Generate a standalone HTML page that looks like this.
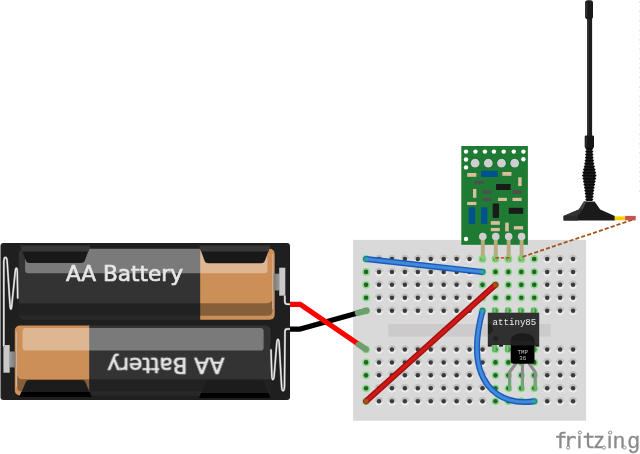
<!DOCTYPE html><html><head><meta charset="utf-8"><title>fritzing sketch</title>
<style>html,body{margin:0;padding:0;background:#fff}body{width:640px;height:454px;overflow:hidden}svg{display:block}text{font-family:"Liberation Sans",sans-serif}</style></head><body>
<svg width="640" height="454" viewBox="0 0 640 454">
<defs>
<linearGradient id="hg" x1="0" y1="0" x2="0" y2="1"><stop offset="0" stop-color="#bdbdbd"/><stop offset="0.42" stop-color="#c6c6c6"/><stop offset="0.58" stop-color="#e6e6e6"/><stop offset="1" stop-color="#f0f0f0"/></linearGradient>
<g id="h"><circle r="4.25" fill="url(#hg)"/><circle r="2.25" fill="#3a3a3a"/></g>
<g id="g"><circle r="3.85" fill="#86de86"/><circle r="2.3" fill="#2e5e2e"/></g>
<linearGradient id="nb"><stop offset="0" stop-color="#7a7a7a"/><stop offset="1" stop-color="#9a9a9a"/></linearGradient><linearGradient id="nb2"><stop offset="0" stop-color="#9a9a9a"/><stop offset="1" stop-color="#7a7a7a"/></linearGradient>
</defs>
<rect width="640" height="454" fill="#fff"/>
<g id="battery">
<rect x="0.5" y="243" width="289.5" height="157" rx="3" fill="#1f1f1f"/>
<clipPath id="tb"><rect x="18.8" y="248.8" width="255.9" height="70.9" rx="5"/></clipPath>
<g clip-path="url(#tb)">
<rect x="18" y="248" width="183" height="73" fill="#333"/>
<rect x="200.2" y="248" width="76" height="73" fill="#cd8f58"/>
<rect x="25.1" y="246" width="242.3" height="27.2" rx="3.2" fill="#fff" fill-opacity="0.35"/>
<path d="M18 303.2 L267 303.2 Q272.4 303.2 272.4 297.8 L272.4 311.2 Q272.4 315.8 267.8 315.8 L18 315.8 Z" fill="#000" fill-opacity="0.34"/>
<rect x="18" y="315.8" width="182.2" height="4" fill="#000" fill-opacity="0.2"/>
<rect x="272.3" y="254" width="0.9" height="55" fill="#c8c8c8" fill-opacity="0.8"/>
</g>
<clipPath id="bb"><rect x="14.8" y="325.6" width="255.7" height="69.9" rx="5"/></clipPath>
<g clip-path="url(#bb)">
<rect x="14" y="325" width="76" height="72" fill="#cd8f58"/>
<rect x="89.2" y="325" width="183" height="72" fill="#333"/>
<rect x="22.5" y="328.1" width="241.1" height="22.5" rx="3.2" fill="#fff" fill-opacity="0.35"/>
<path d="M272 379.3 L22.7 379.3 Q17.3 379.3 17.3 373.9 L17.3 387 Q17.3 391.6 21.9 391.6 L272 391.6 Z" fill="#000" fill-opacity="0.34"/>
<rect x="89.2" y="391.6" width="183" height="4" fill="#000" fill-opacity="0.2"/>
<rect x="15.9" y="332" width="0.9" height="55" fill="#c8c8c8" fill-opacity="0.8"/>
</g>
<path d="M20.1 245.6 L90.5 245.6 L85.0 260 Q84.2 263 81.2 263 L29.400000000000002 263 Q26.400000000000002 263 25.6 260 Z" fill="#191919"/>
<path d="M20.1 245.6 L90.5 245.6 L88.4 251.4 L22.2 251.4 Z" fill="#383838"/>
<path d="M199 245.6 L270.5 245.6 L265.1 260.2 Q264.3 263.2 261.3 263.2 L208.2 263.2 Q205.2 263.2 204.39999999999998 260.2 Z" fill="#191919"/>
<path d="M199 245.6 L270.5 245.6 L268.45681818181816 251.4 L201.0431818181818 251.4 Z" fill="#383838"/>
<path d="M19.4 397 L91.7 397 L85.7 382.9 Q84.9 379.9 81.9 379.9 L29.2 379.9 Q26.2 379.9 25.4 382.9 Z" fill="#1c1c1c"/>
<path d="M19.4 397 L91.7 397 L89.71169590643275 392 L21.388304093567246 392 Z" fill="#000"/>
<path d="M199 398 L270.5 398 L263.8 383.3 Q263.0 380.3 260.0 380.3 L209.5 380.3 Q206.5 380.3 205.7 383.3 Z" fill="#1c1c1c"/>
<path d="M199 398 L270.5 398 L268.3813559322034 393 L201.11864406779662 393 Z" fill="#000"/>
<rect x="273.6" y="273.7" width="5.8" height="16.8" fill="url(#nb)"/>
<rect x="279.2" y="267.7" width="6.1" height="28" fill="#c9c9c9"/>
<rect x="9.7" y="351.5" width="5.8" height="15.9" fill="url(#nb2)"/>
<rect x="3.4" y="345" width="6.3" height="27.7" fill="#c9c9c9"/>
<path d="M284.8 296 L284.8 301.5 Q284.8 304.2 287.5 304.2 L290 304.2" fill="none" stroke="#6a6a6a" stroke-width="2.3" stroke-linejoin="round" stroke-linecap="round"/>
<path d="M3.8 346 L3.8 262 C3.8 256 7 256 7.2 262 L10 305 C10.3 310.5 11.5 310.5 11.8 305 L15.2 272 C15.6 267 17.2 267 17.3 272 L17.7 298" fill="none" stroke="#6a6a6a" stroke-width="2.3" stroke-linejoin="round" stroke-linecap="round"/>
<path d="M290 329 L287.3 329 Q285 329 285 331.3 L284.5 386 C284.3 392.3 281.8 392.3 281.6 386 L279.2 344 C278.9 338 277 338 276.7 344 L274.2 375 C273.8 381 271.9 381 271.8 375 L271 350" fill="none" stroke="#6a6a6a" stroke-width="2.3" stroke-linejoin="round" stroke-linecap="round"/>
<path d="M284.8 296 L284.8 301.5 Q284.8 304.2 287.5 304.2 L290 304.2" fill="none" stroke="#e8e8e8" stroke-width="1.45" stroke-linejoin="round" stroke-linecap="round"/>
<path d="M3.8 346 L3.8 262 C3.8 256 7 256 7.2 262 L10 305 C10.3 310.5 11.5 310.5 11.8 305 L15.2 272 C15.6 267 17.2 267 17.3 272 L17.7 298" fill="none" stroke="#e8e8e8" stroke-width="1.45" stroke-linejoin="round" stroke-linecap="round"/>
<path d="M290 329 L287.3 329 Q285 329 285 331.3 L284.5 386 C284.3 392.3 281.8 392.3 281.6 386 L279.2 344 C278.9 338 277 338 276.7 344 L274.2 375 C273.8 381 271.9 381 271.8 375 L271 350" fill="none" stroke="#e8e8e8" stroke-width="1.45" stroke-linejoin="round" stroke-linecap="round"/>
<g style="filter:opacity(0.999)"><text x="65.9" y="281" font-size="21.65" style="font-family:'DejaVu Sans','Liberation Sans',sans-serif" fill="#e6e6e6" stroke="#e6e6e6" stroke-width="0.7">AA Battery</text>
<text transform="rotate(180 145.2 319.45)" x="65.9" y="281" font-size="21.65" style="font-family:'DejaVu Sans','Liberation Sans',sans-serif" fill="#e6e6e6" stroke="#e6e6e6" stroke-width="0.7">AA Battery</text></g>
</g>
<g id="breadboard">
<rect x="353.1" y="239.9" width="233" height="180.85" fill="#d9d9d9"/>
<rect x="388.2" y="324" width="162.3" height="12.6" fill="#cccaca"/>
<use href="#g" x="366.06" y="258.95"/>
<use href="#h" x="379.0" y="258.95"/>
<use href="#h" x="391.94" y="258.95"/>
<use href="#h" x="404.87" y="258.95"/>
<use href="#h" x="417.81" y="258.95"/>
<use href="#h" x="430.75" y="258.95"/>
<use href="#h" x="443.69" y="258.95"/>
<use href="#h" x="456.62" y="258.95"/>
<use href="#h" x="469.56" y="258.95"/>
<use href="#g" x="482.5" y="258.95"/>
<use href="#g" x="495.44" y="258.95"/>
<use href="#g" x="508.37" y="258.95"/>
<use href="#g" x="521.31" y="258.95"/>
<use href="#g" x="534.25" y="258.95"/>
<use href="#h" x="547.18" y="258.95"/>
<use href="#h" x="560.12" y="258.95"/>
<use href="#h" x="573.06" y="258.95"/>
<use href="#g" x="366.06" y="271.9"/>
<use href="#h" x="379.0" y="271.9"/>
<use href="#h" x="391.94" y="271.9"/>
<use href="#h" x="404.87" y="271.9"/>
<use href="#h" x="417.81" y="271.9"/>
<use href="#h" x="430.75" y="271.9"/>
<use href="#h" x="443.69" y="271.9"/>
<use href="#h" x="456.62" y="271.9"/>
<use href="#h" x="469.56" y="271.9"/>
<use href="#g" x="482.5" y="271.9"/>
<use href="#g" x="495.44" y="271.9"/>
<use href="#g" x="508.37" y="271.9"/>
<use href="#g" x="521.31" y="271.9"/>
<use href="#g" x="534.25" y="271.9"/>
<use href="#h" x="547.18" y="271.9"/>
<use href="#h" x="560.12" y="271.9"/>
<use href="#h" x="573.06" y="271.9"/>
<use href="#g" x="366.06" y="284.85"/>
<use href="#h" x="379.0" y="284.85"/>
<use href="#h" x="391.94" y="284.85"/>
<use href="#h" x="404.87" y="284.85"/>
<use href="#h" x="417.81" y="284.85"/>
<use href="#h" x="430.75" y="284.85"/>
<use href="#h" x="443.69" y="284.85"/>
<use href="#h" x="456.62" y="284.85"/>
<use href="#h" x="469.56" y="284.85"/>
<use href="#g" x="482.5" y="284.85"/>
<use href="#g" x="495.44" y="284.85"/>
<use href="#g" x="508.37" y="284.85"/>
<use href="#g" x="521.31" y="284.85"/>
<use href="#g" x="534.25" y="284.85"/>
<use href="#h" x="547.18" y="284.85"/>
<use href="#h" x="560.12" y="284.85"/>
<use href="#h" x="573.06" y="284.85"/>
<use href="#g" x="366.06" y="297.8"/>
<use href="#h" x="379.0" y="297.8"/>
<use href="#h" x="391.94" y="297.8"/>
<use href="#h" x="404.87" y="297.8"/>
<use href="#h" x="417.81" y="297.8"/>
<use href="#h" x="430.75" y="297.8"/>
<use href="#h" x="443.69" y="297.8"/>
<use href="#h" x="456.62" y="297.8"/>
<use href="#h" x="469.56" y="297.8"/>
<use href="#g" x="482.5" y="297.8"/>
<use href="#g" x="495.44" y="297.8"/>
<use href="#g" x="508.37" y="297.8"/>
<use href="#g" x="521.31" y="297.8"/>
<use href="#g" x="534.25" y="297.8"/>
<use href="#h" x="547.18" y="297.8"/>
<use href="#h" x="560.12" y="297.8"/>
<use href="#h" x="573.06" y="297.8"/>
<use href="#g" x="366.06" y="310.75"/>
<use href="#h" x="379.0" y="310.75"/>
<use href="#h" x="391.94" y="310.75"/>
<use href="#h" x="404.87" y="310.75"/>
<use href="#h" x="417.81" y="310.75"/>
<use href="#h" x="430.75" y="310.75"/>
<use href="#h" x="443.69" y="310.75"/>
<use href="#h" x="456.62" y="310.75"/>
<use href="#h" x="469.56" y="310.75"/>
<use href="#g" x="482.5" y="310.75"/>
<use href="#g" x="495.44" y="310.75"/>
<use href="#g" x="508.37" y="310.75"/>
<use href="#g" x="521.31" y="310.75"/>
<use href="#g" x="534.25" y="310.75"/>
<use href="#h" x="547.18" y="310.75"/>
<use href="#h" x="560.12" y="310.75"/>
<use href="#h" x="573.06" y="310.75"/>
<use href="#g" x="366.06" y="349.45"/>
<use href="#h" x="379.0" y="349.45"/>
<use href="#h" x="391.94" y="349.45"/>
<use href="#h" x="404.87" y="349.45"/>
<use href="#h" x="417.81" y="349.45"/>
<use href="#h" x="430.75" y="349.45"/>
<use href="#h" x="443.69" y="349.45"/>
<use href="#h" x="456.62" y="349.45"/>
<use href="#h" x="469.56" y="349.45"/>
<use href="#h" x="482.5" y="349.45"/>
<use href="#g" x="495.44" y="349.45"/>
<use href="#g" x="508.37" y="349.45"/>
<use href="#g" x="521.31" y="349.45"/>
<use href="#g" x="534.25" y="349.45"/>
<use href="#h" x="547.18" y="349.45"/>
<use href="#h" x="560.12" y="349.45"/>
<use href="#h" x="573.06" y="349.45"/>
<use href="#g" x="366.06" y="362.4"/>
<use href="#h" x="379.0" y="362.4"/>
<use href="#h" x="391.94" y="362.4"/>
<use href="#h" x="404.87" y="362.4"/>
<use href="#h" x="417.81" y="362.4"/>
<use href="#h" x="430.75" y="362.4"/>
<use href="#h" x="443.69" y="362.4"/>
<use href="#h" x="456.62" y="362.4"/>
<use href="#h" x="469.56" y="362.4"/>
<use href="#h" x="482.5" y="362.4"/>
<use href="#g" x="495.44" y="362.4"/>
<use href="#g" x="508.37" y="362.4"/>
<use href="#g" x="521.31" y="362.4"/>
<use href="#g" x="534.25" y="362.4"/>
<use href="#h" x="547.18" y="362.4"/>
<use href="#h" x="560.12" y="362.4"/>
<use href="#h" x="573.06" y="362.4"/>
<use href="#g" x="366.06" y="375.35"/>
<use href="#h" x="379.0" y="375.35"/>
<use href="#h" x="391.94" y="375.35"/>
<use href="#h" x="404.87" y="375.35"/>
<use href="#h" x="417.81" y="375.35"/>
<use href="#h" x="430.75" y="375.35"/>
<use href="#h" x="443.69" y="375.35"/>
<use href="#h" x="456.62" y="375.35"/>
<use href="#h" x="469.56" y="375.35"/>
<use href="#h" x="482.5" y="375.35"/>
<use href="#g" x="495.44" y="375.35"/>
<use href="#g" x="508.37" y="375.35"/>
<use href="#g" x="521.31" y="375.35"/>
<use href="#g" x="534.25" y="375.35"/>
<use href="#h" x="547.18" y="375.35"/>
<use href="#h" x="560.12" y="375.35"/>
<use href="#h" x="573.06" y="375.35"/>
<use href="#g" x="366.06" y="388.3"/>
<use href="#h" x="379.0" y="388.3"/>
<use href="#h" x="391.94" y="388.3"/>
<use href="#h" x="404.87" y="388.3"/>
<use href="#h" x="417.81" y="388.3"/>
<use href="#h" x="430.75" y="388.3"/>
<use href="#h" x="443.69" y="388.3"/>
<use href="#h" x="456.62" y="388.3"/>
<use href="#h" x="469.56" y="388.3"/>
<use href="#h" x="482.5" y="388.3"/>
<use href="#g" x="495.44" y="388.3"/>
<use href="#g" x="508.37" y="388.3"/>
<use href="#g" x="521.31" y="388.3"/>
<use href="#g" x="534.25" y="388.3"/>
<use href="#h" x="547.18" y="388.3"/>
<use href="#h" x="560.12" y="388.3"/>
<use href="#h" x="573.06" y="388.3"/>
<use href="#g" x="366.06" y="401.25"/>
<use href="#h" x="379.0" y="401.25"/>
<use href="#h" x="391.94" y="401.25"/>
<use href="#h" x="404.87" y="401.25"/>
<use href="#h" x="417.81" y="401.25"/>
<use href="#h" x="430.75" y="401.25"/>
<use href="#h" x="443.69" y="401.25"/>
<use href="#h" x="456.62" y="401.25"/>
<use href="#h" x="469.56" y="401.25"/>
<use href="#h" x="482.5" y="401.25"/>
<use href="#g" x="495.44" y="401.25"/>
<use href="#g" x="508.37" y="401.25"/>
<use href="#g" x="521.31" y="401.25"/>
<use href="#g" x="534.25" y="401.25"/>
<use href="#h" x="547.18" y="401.25"/>
<use href="#h" x="560.12" y="401.25"/>
<use href="#h" x="573.06" y="401.25"/>
</g>
<g id="rf">
<rect x="461.3" y="146" width="66.6" height="98.8" fill="#1f7a33"/>
<circle cx="466" cy="151.6" r="2.2" fill="#fff"/>
<circle cx="475.5" cy="151.6" r="2.2" fill="#fff"/>
<circle cx="484.9" cy="151.6" r="2.2" fill="#fff"/>
<circle cx="493.9" cy="151.6" r="2.2" fill="#fff"/>
<circle cx="503.7" cy="151.6" r="2.2" fill="#fff"/>
<circle cx="513.8" cy="151.6" r="2.2" fill="#fff"/>
<circle cx="523.4" cy="151.6" r="2.2" fill="#fff"/>
<circle cx="466" cy="159.5" r="2.2" fill="#fff"/>
<circle cx="523.4" cy="159.2" r="2.2" fill="#fff"/>
<circle cx="466" cy="167.4" r="2.2" fill="#fff"/>
<circle cx="466" cy="239" r="2.2" fill="#fff"/>
<circle cx="475.1" cy="163.2" r="5.1" fill="#146b2c"/><circle cx="475.1" cy="163.2" r="4.4" fill="#cfcfcf"/>
<circle cx="488.3" cy="163.2" r="5.1" fill="#146b2c"/><circle cx="488.3" cy="163.2" r="4.4" fill="#cfcfcf"/>
<circle cx="501.5" cy="163.2" r="5.1" fill="#146b2c"/><circle cx="501.5" cy="163.2" r="4.4" fill="#cfcfcf"/>
<circle cx="514.7" cy="163.2" r="5.1" fill="#146b2c"/><circle cx="514.7" cy="163.2" r="4.4" fill="#cfcfcf"/>
<rect x="467.2" y="173" width="9.2" height="3.8" fill="#d9bd9c"/>
<rect x="481.1" y="170.8" width="16.6" height="6.2" fill="#00518f"/>
<rect x="502.3" y="172" width="9.2" height="3.8" fill="#d9bd9c"/>
<rect x="518.2" y="177.3" width="3.4" height="8.8" fill="#d9bd9c"/>
<rect x="474.5" y="180.8" width="9.1" height="3.2" fill="#4f4f4f"/>
<rect x="496.1" y="184" width="14.5" height="6" fill="#1a1a1a"/>
<rect x="473" y="189" width="3.4" height="8.8" fill="#d9bd9c"/>
<rect x="482.9" y="190.2" width="9.1" height="3.6" fill="#4f4f4f"/>
<rect x="512.4" y="190.2" width="9.2" height="3.6" fill="#4f4f4f"/>
<rect x="482.9" y="197.8" width="9.1" height="3.2" fill="#4f4f4f"/>
<rect x="498.1" y="197.8" width="8.8" height="3.2" fill="#d9bd9c"/>
<rect x="512.5" y="197.8" width="9.1" height="3.2" fill="#d9bd9c"/>
<rect x="467.2" y="201.9" width="9.2" height="3.1" fill="#d9bd9c"/>
<rect x="468.8" y="207.3" width="6.3" height="16.6" fill="#00518f"/>
<rect x="481" y="207.3" width="6.3" height="16.6" fill="#00518f"/>
<rect x="492.7" y="203.5" width="6.3" height="14.4" fill="#1a1a1a"/>
<rect x="508.75" y="207.8" width="14.45" height="6.0" fill="#1a1a1a"/>
<rect x="490.8" y="221.1" width="9.0" height="3.7" fill="#d9bd9c"/>
<rect x="490.8" y="227.9" width="9.0" height="3.3" fill="#d9bd9c"/>
<rect x="505.2" y="222.6" width="3.55" height="8.8" fill="#d9bd9c"/>
<rect x="513.8" y="226.1" width="9.3" height="3.4" fill="#d9bd9c"/>
<path d="M480.85 236.5 L484.75 236.5 L484.75 258.2 L482.8 262 L480.85 258.2 Z" fill="#b7ab7f"/>
<circle cx="482.8" cy="236.5" r="3.8" fill="#cfcfcf"/>
<circle cx="482.5" cy="258.95" r="3.9" fill="#6fdc6f" fill-opacity="0.5"/>
<path d="M493.79 236.5 L497.69 236.5 L497.69 258.2 L495.74 262 L493.79 258.2 Z" fill="#b7ab7f"/>
<circle cx="495.74" cy="236.5" r="3.8" fill="#cfcfcf"/>
<circle cx="495.44" cy="258.95" r="3.9" fill="#6fdc6f" fill-opacity="0.5"/>
<path d="M506.72 236.5 L510.62 236.5 L510.62 258.2 L508.67 262 L506.72 258.2 Z" fill="#b7ab7f"/>
<circle cx="508.67" cy="236.5" r="3.8" fill="#cfcfcf"/>
<circle cx="508.37" cy="258.95" r="3.9" fill="#6fdc6f" fill-opacity="0.5"/>
<path d="M519.6599999999999 236.5 L523.56 236.5 L523.56 258.2 L521.6099999999999 262 L519.6599999999999 258.2 Z" fill="#b7ab7f"/>
<circle cx="521.6099999999999" cy="236.5" r="3.8" fill="#cfcfcf"/>
<circle cx="521.31" cy="258.95" r="3.9" fill="#6fdc6f" fill-opacity="0.5"/>
</g>
<path d="M495.3 257.9 L509.6 257.9" stroke="#e01212" stroke-width="1.4" stroke-dasharray="3.4 2.1" fill="none"/>
<path d="M522.5 256.8 L635 219" stroke="#a3541a" stroke-width="1.8" stroke-dasharray="4.1 2.1" fill="none"/>
<path d="M366.06 258.95 L482.5 271.9" fill="none" stroke="#1b5bb8" stroke-width="6" stroke-linecap="round"/>
<path d="M366.06 258.95 L482.5 271.9" fill="none" stroke="#4189dd" stroke-width="3.1" stroke-linecap="round"/>
<path d="M495.44 284.85 L366.06 401.25" fill="none" stroke="#a01212" stroke-width="6" stroke-linecap="round"/>
<path d="M495.44 284.85 L366.06 401.25" fill="none" stroke="#d21717" stroke-width="3.1" stroke-linecap="round"/>
<path d="M482.5 310.75 C463 383.7 499.4 406.8 534.25 401.25" fill="none" stroke="#1b5bb8" stroke-width="6" stroke-linecap="round"/>
<path d="M482.5 310.75 C463 383.7 499.4 406.8 534.25 401.25" fill="none" stroke="#4189dd" stroke-width="3.1" stroke-linecap="round"/>
<circle cx="366.06" cy="258.95" r="2.5" fill="#2fae8c" fill-opacity="0.6"/>
<circle cx="482.5" cy="271.9" r="2.5" fill="#2fae8c" fill-opacity="0.6"/>
<circle cx="482.5" cy="310.75" r="2.5" fill="#2fae8c" fill-opacity="0.6"/>
<circle cx="534.25" cy="401.25" r="2.5" fill="#2fae8c" fill-opacity="0.6"/>
<circle cx="495.44" cy="284.85" r="2.5" fill="#a06a20" fill-opacity="0.65"/>
<circle cx="366.06" cy="401.25" r="2.5" fill="#a06a20" fill-opacity="0.65"/>
<path d="M290 329.1 L300.3 329.1 L366.66 310.5" fill="none" stroke="#000" stroke-width="5.2" stroke-linejoin="round" stroke-linecap="butt"/>
<path d="M290 304.35 L300.3 304.35 L366.06 349.4" fill="none" stroke="#ff0000" stroke-width="5.2" stroke-linejoin="round" stroke-linecap="butt"/>
<path d="M357.8 313 L366.66 310.6" fill="none" stroke="#6ea06e" stroke-width="6" stroke-linecap="round"/>
<path d="M358.6 344.6 L366.06 349.4" fill="none" stroke="#6ea06e" stroke-width="6" stroke-linecap="round"/>
<g id="ic" style="filter:opacity(0.999)">
<rect x="492.39" y="307.8" width="4.4" height="6.6" fill="#55a855"/>
<rect x="493.69" y="307.8" width="1.8" height="6.6" fill="#79c479"/>
<rect x="492.39" y="344.9" width="4.4" height="6.6" fill="#55a855"/>
<rect x="493.69" y="344.9" width="1.8" height="6.6" fill="#79c479"/>
<rect x="505.32" y="307.8" width="4.4" height="6.6" fill="#55a855"/>
<rect x="506.62" y="307.8" width="1.8" height="6.6" fill="#79c479"/>
<rect x="505.32" y="344.9" width="4.4" height="6.6" fill="#55a855"/>
<rect x="506.62" y="344.9" width="1.8" height="6.6" fill="#79c479"/>
<rect x="518.26" y="307.8" width="4.4" height="6.6" fill="#55a855"/>
<rect x="519.5600000000001" y="307.8" width="1.8" height="6.6" fill="#79c479"/>
<rect x="518.26" y="344.9" width="4.4" height="6.6" fill="#55a855"/>
<rect x="519.5600000000001" y="344.9" width="1.8" height="6.6" fill="#79c479"/>
<rect x="531.1999999999999" y="307.8" width="4.4" height="6.6" fill="#55a855"/>
<rect x="532.5" y="307.8" width="1.8" height="6.6" fill="#79c479"/>
<rect x="531.1999999999999" y="344.9" width="4.4" height="6.6" fill="#55a855"/>
<rect x="532.5" y="344.9" width="1.8" height="6.6" fill="#79c479"/>
<rect x="487.8" y="312.7" width="51.4" height="32.3" fill="#303030"/>
<rect x="487.8" y="344.8" width="4" height="1.8" fill="#1c1c1c"/>
<rect x="499.0" y="344.8" width="4" height="1.8" fill="#1c1c1c"/>
<rect x="512.0" y="344.8" width="4" height="1.8" fill="#1c1c1c"/>
<rect x="524.9" y="344.8" width="4" height="1.8" fill="#1c1c1c"/>
<rect x="535.2" y="344.8" width="4" height="1.8" fill="#1c1c1c"/>
<path d="M488 324.2 A5 5 0 0 1 488 334.2 Z" fill="#202020"/>
<circle cx="495.8" cy="338.4" r="2.5" fill="#222"/>
<text x="492.6" y="325.2" font-size="9.1" style="font-family:'Liberation Mono',monospace" fill="#ececec">attiny85</text>
</g>
<g id="tmp" style="filter:opacity(0.999)">
<path d="M515.6 362 L515.6 364 L509.6 372 L509.6 390.5" fill="none" stroke="#8c8c8c" stroke-width="3.1" stroke-linejoin="round"/>
<path d="M522.4 362 L522.4 390.5" fill="none" stroke="#8c8c8c" stroke-width="3.1" stroke-linejoin="round"/>
<path d="M529.4 362 L529.4 364 L535.2 372 L535.2 390.5" fill="none" stroke="#8c8c8c" stroke-width="3.1" stroke-linejoin="round"/>
<path d="M509.6 380 L509.6 390.5 M522.4 380 L522.4 390.5 M535.2 380 L535.2 390.5" fill="none" stroke="#6faa6f" stroke-width="3.1"/>
<path d="M510.7 346 L510.7 341 C510.7 330.5 534.5 330.5 534.5 341 L534.5 346 Z" fill="#1b1b1b"/>
<rect x="510.7" y="340.9" width="23.8" height="5" fill="#202020"/>
<path d="M510.7 345.6 L534.5 345.6 L534.5 360.7 Q534.5 363.7 531.5 363.7 L513.7 363.7 Q510.7 363.7 510.7 360.7 Z" fill="#000"/>
<text x="522.65" y="354.3" font-size="5.8" text-anchor="middle" style="font-family:'Liberation Mono',monospace" fill="#c4c4c4">TMP</text>
<text x="522.65" y="360" font-size="5.8" text-anchor="middle" style="font-family:'Liberation Mono',monospace" fill="#c4c4c4">36</text>
</g>
<g id="antenna">
<rect x="587.1" y="18" width="5" height="119" fill="#1c1c1c"/>
<rect x="587.5" y="18" width="1.1" height="118" fill="#3a3a3a"/>
<rect x="585.1" y="0.2" width="7.9" height="19" rx="2.6" fill="#1a1a1a"/>
<rect x="586.2" y="2.5" width="1" height="14.5" rx="0.5" fill="#383838"/>
<rect x="584.7" y="135.5" width="9.3" height="12.5" rx="1.2" fill="#161616"/>
<rect x="585.8" y="137" width="1.1" height="10" fill="#343434"/>
<path d="M586.7 147 L586.26 155 L585.84 160 L585.2 165 L584.03 170 L583.28 175 L583.83 180 L584.67 185 L585.4 190 L586.0 195 L586.6 201 L592.0 201 L592.6 195 L593.2 190 L593.93 185 L594.77 180 L595.32 175 L594.57 170 L593.4 165 L592.76 160 L592.34 155 L591.9 147 Z" fill="#2a2a2a"/>
<rect x="585.51" y="147.5" width="7.57" height="2.2" rx="1.1" fill="#0a0a0a"/>
<rect x="585.35" y="150.5" width="7.9" height="2.2" rx="1.1" fill="#0a0a0a"/>
<rect x="585.19" y="153.5" width="8.23" height="2.2" rx="1.1" fill="#0a0a0a"/>
<rect x="585.02" y="156.5" width="8.56" height="2.2" rx="1.1" fill="#0a0a0a"/>
<rect x="584.67" y="159.5" width="9.27" height="2.2" rx="1.1" fill="#0a0a0a"/>
<rect x="584.28" y="162.5" width="10.04" height="2.2" rx="1.1" fill="#0a0a0a"/>
<rect x="583.73" y="165.5" width="11.15" height="2.2" rx="1.1" fill="#0a0a0a"/>
<rect x="583.03" y="168.5" width="12.55" height="2.2" rx="1.1" fill="#0a0a0a"/>
<rect x="582.49" y="171.5" width="13.62" height="2.2" rx="1.1" fill="#0a0a0a"/>
<rect x="582.1" y="174.5" width="14.4" height="2.2" rx="1.1" fill="#0a0a0a"/>
<rect x="582.49" y="177.5" width="13.62" height="2.2" rx="1.1" fill="#0a0a0a"/>
<rect x="583.0" y="180.5" width="12.6" height="2.2" rx="1.1" fill="#0a0a0a"/>
<rect x="583.5" y="183.5" width="11.6" height="2.2" rx="1.1" fill="#0a0a0a"/>
<rect x="583.98" y="186.5" width="10.64" height="2.2" rx="1.1" fill="#0a0a0a"/>
<rect x="584.38" y="189.5" width="9.84" height="2.2" rx="1.1" fill="#0a0a0a"/>
<rect x="584.76" y="192.5" width="9.08" height="2.2" rx="1.1" fill="#0a0a0a"/>
<rect x="585.06" y="195.5" width="8.48" height="2.2" rx="1.1" fill="#0a0a0a"/>
<rect x="585.36" y="198.5" width="7.88" height="2.2" rx="1.1" fill="#0a0a0a"/>
<path d="M584 201.5 L594.6 201.5 L600.2 209.5 L614.8 215.9 L614.8 220.5 L563.6 220.5 L563.6 215.9 L578.8 209.5 Z" fill="#1a1a1a"/>
<path d="M584 201.5 L586.5 201.5 L582.5 209.5 L578.8 209.5 Z" fill="#444"/>
<path d="M578.8 209.5 L582.5 209.5 L578 215.9 L563.6 215.9 Z" fill="#333"/>
<rect x="563.6" y="215.9" width="14.4" height="4.6" fill="#2a2a2a"/>
<rect x="614.8" y="216.4" width="10.4" height="3.9" fill="#ffcc00"/>
<rect x="625.1" y="215.9" width="10.6" height="4.4" fill="#c4554d"/>
</g>
<path d="M639.5 1 L639.5 192" stroke="#ebe4f8" stroke-width="1" stroke-dasharray="2 7.45" fill="none"/>
<path d="M639.5 5.6 L639.5 192" stroke="#fdecf8" stroke-width="1" stroke-dasharray="1.3 8.15" fill="none"/>
<g id="logo" style="filter:opacity(0.999)" fill="#8a8a8a" stroke="#8a8a8a" stroke-width="0.3" font-size="21.5" style="font-family:'DejaVu Sans','Liberation Sans',sans-serif">
<text y="448.1"><tspan x="554.36" style="font-family:'DejaVu Sans Mono','Liberation Mono',monospace">f</tspan><tspan x="563.44" style="font-family:'DejaVu Sans Mono','Liberation Mono',monospace">r</tspan><tspan x="576.88">i</tspan><tspan x="582.42" style="font-family:'DejaVu Sans Mono','Liberation Mono',monospace">t</tspan><tspan x="593.78">z</tspan><tspan x="607.33">i</tspan><tspan x="613.04">n</tspan><tspan x="627.82">g</tspan></text>
<circle cx="568.1" cy="447.6" r="1.55" fill="#fff" stroke="#8a8a8a" stroke-width="1"/>
<circle cx="579.85" cy="432.6" r="1.55" fill="#fff" stroke="#8a8a8a" stroke-width="1"/>
<circle cx="610.3" cy="432.6" r="1.55" fill="#fff" stroke="#8a8a8a" stroke-width="1"/>
<circle cx="603.9" cy="447.6" r="1.55" fill="#fff" stroke="#8a8a8a" stroke-width="1"/>
<circle cx="624.5" cy="447.6" r="1.55" fill="#fff" stroke="#8a8a8a" stroke-width="1"/>
</g>
</svg></body></html>
